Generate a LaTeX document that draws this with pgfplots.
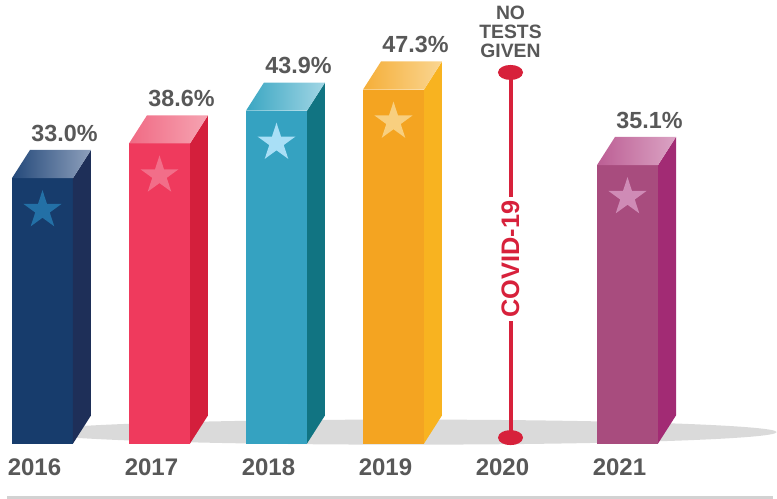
\documentclass[border=0pt]{standalone}
\usepackage{fontspec}
\setmainfont{Liberation Sans}
\usepackage{pgfplots}
\pgfplotsset{compat=1.18}

\definecolor{labelgray}{HTML}{585858}
\definecolor{covidred}{HTML}{D7213B}
\definecolor{shadowgray}{HTML}{DADADA}
\definecolor{linegray}{HTML}{D2D2D2}
% bar colours: front, side, top (left/right), star
\definecolor{aF}{HTML}{173C6C}\definecolor{aS}{HTML}{1E2F58}\definecolor{aL}{HTML}{24497A}\definecolor{aR}{HTML}{8EA0BC}\definecolor{aT}{HTML}{2370A6}
\definecolor{bF}{HTML}{EF3A5D}\definecolor{bS}{HTML}{D41F3C}\definecolor{bL}{HTML}{F06A84}\definecolor{bR}{HTML}{F6A4B2}\definecolor{bT}{HTML}{F26E89}
\definecolor{cF}{HTML}{35A2C1}\definecolor{cS}{HTML}{117482}\definecolor{cL}{HTML}{3AA6C2}\definecolor{cR}{HTML}{A2D6E5}\definecolor{cT}{HTML}{A9DFF6}
\definecolor{dF}{HTML}{F4A421}\definecolor{dS}{HTML}{F8B320}\definecolor{dL}{HTML}{F5AE38}\definecolor{dR}{HTML}{FAD692}\definecolor{dT}{HTML}{F8CF7F}
\definecolor{eF}{HTML}{A84C7E}\definecolor{eS}{HTML}{A22B74}\definecolor{eL}{HTML}{BC5E94}\definecolor{eR}{HTML}{DBA4C4}\definecolor{eT}{HTML}{CF8BB6}

% filled five-point star
\pgfdeclareplotmark{fstar}{%
  \pgfpathmoveto{\pgfpointpolar{90}{\pgfplotmarksize}}%
  \pgfpathlineto{\pgfpointpolar{126}{0.382\pgfplotmarksize}}%
  \pgfpathlineto{\pgfpointpolar{162}{\pgfplotmarksize}}%
  \pgfpathlineto{\pgfpointpolar{198}{0.382\pgfplotmarksize}}%
  \pgfpathlineto{\pgfpointpolar{234}{\pgfplotmarksize}}%
  \pgfpathlineto{\pgfpointpolar{270}{0.382\pgfplotmarksize}}%
  \pgfpathlineto{\pgfpointpolar{306}{\pgfplotmarksize}}%
  \pgfpathlineto{\pgfpointpolar{342}{0.382\pgfplotmarksize}}%
  \pgfpathlineto{\pgfpointpolar{18}{\pgfplotmarksize}}%
  \pgfpathlineto{\pgfpointpolar{54}{0.382\pgfplotmarksize}}%
  \pgfpathclose
  \pgfusepathqfill}

% 3d bar: #1 position, #2 value, #3 front, #4 side, #5/#6 top shading, #7 star
\newcommand\tdbar[7]{%
  \pgfmathsetmacro\xl{#1-0.2607}%
  \pgfmathsetmacro\xr{#1+0.2607}%
  \pgfmathsetmacro\xb{#1+0.4145}%
  \pgfmathsetmacro\xt{#1-0.1069}%
  \pgfmathsetmacro\yt{#2+4.553}%
  \addplot[draw=none, fill=#3] coordinates {(\xl,-9.9)(\xr,-9.9)(\xr,#2)(\xl,#2)} -- cycle;
  \addplot[draw=none, fill=#4] coordinates {(\xr,-9.9)(\xb,-5.35)(\xb,\yt)(\xr,#2)} -- cycle;
  \addplot[draw=none, left color=#5, right color=#6] coordinates {(\xl,#2)(\xr,#2)(\xb,\yt)(\xt,\yt)} -- cycle;
  \addplot[only marks, color=#7, mark=fstar, mark size=15pt, mark options={yshift=-24pt}] coordinates {(#1,#2)};
}

\begin{document}
\begin{tikzpicture}
\begin{axis}[
    width=582.75pt, height=373.5pt,
    scale only axis,
    xmin=-0.3632, xmax=6.2778,
    ymin=-18.70, ymax=61.79,
    hide axis,
    clip=false,
]
\coordinate (bl) at (rel axis cs:0,0);
\coordinate (tr) at (rel axis cs:1,1);

% floor shadow and base line
\fill[shadowgray] (axis cs:3.107,-8.05) ellipse [x radius=278pt, y radius=9.4pt];
\draw[linegray, line width=2.25pt] (axis cs:-0.303,-18.54) -- (axis cs:6.244,-18.54);

\tdbar{0}{33.0}{aF}{aS}{aL}{aR}{aT}
\tdbar{1}{38.6}{bF}{bS}{bL}{bR}{bT}
\tdbar{2}{43.9}{cF}{cS}{cL}{cR}{cT}
\tdbar{3}{47.3}{dF}{dS}{dL}{dR}{dT}
\tdbar{5}{35.1}{eF}{eS}{eL}{eR}{eT}

% 2020: no tests
\addplot[covidred, line width=3pt, mark=*, mark size=4.1pt,
    mark options={xscale=1.9, fill=covidred}] coordinates {(4,50.08)(4,-8.94)};
\node[rotate=90, fill=white, inner xsep=2.5pt, inner ysep=1pt, text=covidred,
    font=\fontsize{19}{19}\selectfont\bfseries] at (axis cs:4,19.92) {COVID-19};
\node[anchor=south, align=center, inner sep=0pt, text=labelgray,
    font=\fontsize{14.5}{13.9}\selectfont\bfseries] at (axis cs:4,52.5) {NO\\TESTS\\GIVEN};

% value labels
\addplot[draw=none, point meta=explicit symbolic, nodes near coords,
    every node near coord/.append style={anchor=base, inner sep=0pt, xshift=16.5pt, yshift=27.75pt,
        text=labelgray, font=\fontsize{17.5}{17.5}\selectfont\bfseries}]
    coordinates {(0,33.0)[33.0\%] (1,38.6)[38.6\%] (2,43.9)[43.9\%] (3,47.3)[47.3\%] (5,35.1)[35.1\%]};

% year labels
\addplot[draw=none, point meta=explicit symbolic, nodes near coords,
    every node near coord/.append style={anchor=base, inner sep=0pt, xshift=-6pt,
        text=labelgray, font=\fontsize{18}{18}\selectfont\bfseries}]
    coordinates {(0,-15.12)[2016] (1,-15.12)[2017] (2,-15.12)[2018] (3,-15.12)[2019] (4,-15.12)[2020] (5,-15.12)[2021]};
\end{axis}
\pgfresetboundingbox
\path[use as bounding box] (bl) rectangle (tr);
\end{tikzpicture}
\end{document}
